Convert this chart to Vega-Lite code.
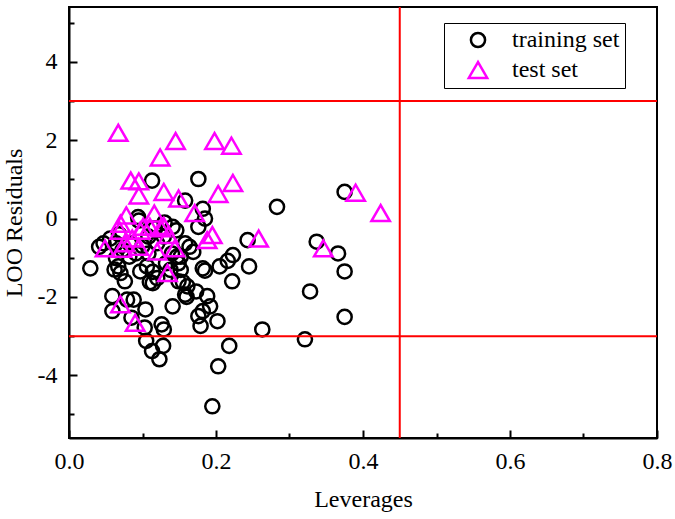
{
  "$schema": "https://vega.github.io/schema/vega-lite/v6.json",
  "width": 588,
  "height": 431,
  "autosize": {"type": "none"},
  "padding": {"left": 69, "top": 7, "right": 18, "bottom": 81},
  "background": "white",
  "config": {
    "font": "Liberation Serif",
    "view": {"stroke": "black", "strokeWidth": 2},
    "axis": {
      "grid": false,
      "domainColor": "black",
      "domainWidth": 2,
      "tickColor": "black",
      "tickWidth": 2,
      "labelColor": "black",
      "labelFont": "Liberation Serif",
      "labelFontSize": 24,
      "titleFont": "Liberation Serif",
      "titleFontSize": 24,
      "titleFontWeight": "normal",
      "titleColor": "black"
    }
  },
  "resolve": {"axis": {"x": "independent", "y": "independent"}},
  "datasets": {
    "points": [
      {"lev": 0.113, "res": 0.97, "set": "training set"},
      {"lev": 0.176, "res": 1.01, "set": "training set"},
      {"lev": 0.375, "res": 0.68, "set": "training set"},
      {"lev": 0.283, "res": 0.30, "set": "training set"},
      {"lev": 0.182, "res": 0.25, "set": "training set"},
      {"lev": 0.158, "res": 0.46, "set": "training set"},
      {"lev": 0.185, "res": 0.00, "set": "training set"},
      {"lev": 0.176, "res": -0.21, "set": "training set"},
      {"lev": 0.094, "res": 0.04, "set": "training set"},
      {"lev": 0.243, "res": -0.55, "set": "training set"},
      {"lev": 0.337, "res": -0.59, "set": "training set"},
      {"lev": 0.366, "res": -0.89, "set": "training set"},
      {"lev": 0.375, "res": -1.35, "set": "training set"},
      {"lev": 0.223, "res": -0.93, "set": "training set"},
      {"lev": 0.205, "res": -1.22, "set": "training set"},
      {"lev": 0.245, "res": -1.22, "set": "training set"},
      {"lev": 0.222, "res": -1.60, "set": "training set"},
      {"lev": 0.328, "res": -1.86, "set": "training set"},
      {"lev": 0.375, "res": -2.51, "set": "training set"},
      {"lev": 0.263, "res": -2.83, "set": "training set"},
      {"lev": 0.321, "res": -3.08, "set": "training set"},
      {"lev": 0.218, "res": -3.25, "set": "training set"},
      {"lev": 0.203, "res": -3.77, "set": "training set"},
      {"lev": 0.195, "res": -4.79, "set": "training set"},
      {"lev": 0.202, "res": -2.62, "set": "training set"},
      {"lev": 0.179, "res": -2.74, "set": "training set"},
      {"lev": 0.182, "res": -2.36, "set": "training set"},
      {"lev": 0.192, "res": -2.24, "set": "training set"},
      {"lev": 0.188, "res": -1.98, "set": "training set"},
      {"lev": 0.173, "res": -1.86, "set": "training set"},
      {"lev": 0.158, "res": -1.94, "set": "training set"},
      {"lev": 0.161, "res": -1.73, "set": "training set"},
      {"lev": 0.149, "res": -1.60, "set": "training set"},
      {"lev": 0.141, "res": -2.24, "set": "training set"},
      {"lev": 0.182, "res": -1.27, "set": "training set"},
      {"lev": 0.164, "res": -0.72, "set": "training set"},
      {"lev": 0.158, "res": -0.63, "set": "training set"},
      {"lev": 0.149, "res": -1.14, "set": "training set"},
      {"lev": 0.152, "res": -0.97, "set": "training set"},
      {"lev": 0.146, "res": -0.30, "set": "training set"},
      {"lev": 0.141, "res": -0.21, "set": "training set"},
      {"lev": 0.114, "res": -1.65, "set": "training set"},
      {"lev": 0.120, "res": -1.52, "set": "training set"},
      {"lev": 0.097, "res": -1.35, "set": "training set"},
      {"lev": 0.106, "res": -1.22, "set": "training set"},
      {"lev": 0.076, "res": -1.60, "set": "training set"},
      {"lev": 0.029, "res": -1.27, "set": "training set"},
      {"lev": 0.041, "res": -0.72, "set": "training set"},
      {"lev": 0.056, "res": -0.51, "set": "training set"},
      {"lev": 0.064, "res": -1.01, "set": "training set"},
      {"lev": 0.067, "res": -1.22, "set": "training set"},
      {"lev": 0.070, "res": -1.39, "set": "training set"},
      {"lev": 0.062, "res": -1.30, "set": "training set"},
      {"lev": 0.059, "res": -1.98, "set": "training set"},
      {"lev": 0.059, "res": -2.36, "set": "training set"},
      {"lev": 0.079, "res": -2.07, "set": "training set"},
      {"lev": 0.088, "res": -2.07, "set": "training set"},
      {"lev": 0.085, "res": -2.53, "set": "training set"},
      {"lev": 0.104, "res": -2.32, "set": "training set"},
      {"lev": 0.103, "res": -2.78, "set": "training set"},
      {"lev": 0.105, "res": -3.12, "set": "training set"},
      {"lev": 0.113, "res": -3.38, "set": "training set"},
      {"lev": 0.123, "res": -3.59, "set": "training set"},
      {"lev": 0.128, "res": -3.25, "set": "training set"},
      {"lev": 0.129, "res": -2.83, "set": "training set"},
      {"lev": 0.126, "res": -2.70, "set": "training set"},
      {"lev": 0.082, "res": -0.97, "set": "training set"},
      {"lev": 0.091, "res": -0.89, "set": "training set"},
      {"lev": 0.108, "res": -0.89, "set": "training set"},
      {"lev": 0.108, "res": -0.46, "set": "training set"},
      {"lev": 0.117, "res": -0.25, "set": "training set"},
      {"lev": 0.120, "res": -0.63, "set": "training set"},
      {"lev": 0.129, "res": -0.46, "set": "training set"},
      {"lev": 0.140, "res": -0.89, "set": "training set"},
      {"lev": 0.147, "res": -0.97, "set": "training set"},
      {"lev": 0.132, "res": -1.14, "set": "training set"},
      {"lev": 0.138, "res": -1.31, "set": "training set"},
      {"lev": 0.152, "res": -1.31, "set": "training set"},
      {"lev": 0.082, "res": -0.63, "set": "training set"},
      {"lev": 0.073, "res": -0.80, "set": "training set"},
      {"lev": 0.064, "res": -0.63, "set": "training set"},
      {"lev": 0.047, "res": -0.63, "set": "training set"},
      {"lev": 0.169, "res": -0.85, "set": "training set"},
      {"lev": 0.185, "res": -1.33, "set": "training set"},
      {"lev": 0.216, "res": -1.08, "set": "training set"},
      {"lev": 0.155, "res": -1.62, "set": "training set"},
      {"lev": 0.160, "res": -2.00, "set": "training set"},
      {"lev": 0.176, "res": -2.49, "set": "training set"},
      {"lev": 0.110, "res": -1.62, "set": "training set"},
      {"lev": 0.114, "res": -1.36, "set": "training set"},
      {"lev": 0.095, "res": -0.05, "set": "training set"},
      {"lev": 0.130, "res": -0.10, "set": "training set"},
      {"lev": 0.100, "res": -0.70, "set": "training set"},
      {"lev": 0.068, "res": -0.40, "set": "training set"},
      {"lev": 0.067, "res": 2.19, "set": "test set"},
      {"lev": 0.145, "res": 1.98, "set": "test set"},
      {"lev": 0.198, "res": 1.98, "set": "test set"},
      {"lev": 0.221, "res": 1.86, "set": "test set"},
      {"lev": 0.124, "res": 1.56, "set": "test set"},
      {"lev": 0.084, "res": 0.97, "set": "test set"},
      {"lev": 0.095, "res": 0.95, "set": "test set"},
      {"lev": 0.223, "res": 0.91, "set": "test set"},
      {"lev": 0.129, "res": 0.68, "set": "test set"},
      {"lev": 0.095, "res": 0.59, "set": "test set"},
      {"lev": 0.149, "res": 0.51, "set": "test set"},
      {"lev": 0.203, "res": 0.63, "set": "test set"},
      {"lev": 0.390, "res": 0.66, "set": "test set"},
      {"lev": 0.424, "res": 0.14, "set": "test set"},
      {"lev": 0.171, "res": 0.14, "set": "test set"},
      {"lev": 0.116, "res": 0.13, "set": "test set"},
      {"lev": 0.078, "res": 0.08, "set": "test set"},
      {"lev": 0.070, "res": -0.13, "set": "test set"},
      {"lev": 0.101, "res": -0.21, "set": "test set"},
      {"lev": 0.129, "res": -0.19, "set": "test set"},
      {"lev": 0.195, "res": -0.42, "set": "test set"},
      {"lev": 0.188, "res": -0.55, "set": "test set"},
      {"lev": 0.135, "res": -0.42, "set": "test set"},
      {"lev": 0.258, "res": -0.51, "set": "test set"},
      {"lev": 0.049, "res": -0.76, "set": "test set"},
      {"lev": 0.076, "res": -0.63, "set": "test set"},
      {"lev": 0.095, "res": -0.72, "set": "test set"},
      {"lev": 0.144, "res": -0.76, "set": "test set"},
      {"lev": 0.120, "res": -0.84, "set": "test set"},
      {"lev": 0.346, "res": -0.76, "set": "test set"},
      {"lev": 0.134, "res": -1.39, "set": "test set"},
      {"lev": 0.070, "res": -2.19, "set": "test set"},
      {"lev": 0.090, "res": -2.66, "set": "test set"},
      {"lev": 0.069, "res": -0.31, "set": "test set"},
      {"lev": 0.097, "res": -0.31, "set": "test set"},
      {"lev": 0.110, "res": -0.21, "set": "test set"},
      {"lev": 0.086, "res": -0.51, "set": "test set"},
      {"lev": 0.072, "res": -0.77, "set": "test set"},
      {"lev": 0.125, "res": -0.25, "set": "test set"}
    ],
    "limits": [
      {"kind": "h", "value": 3},
      {"kind": "h", "value": -3},
      {"kind": "v", "value": 0.45}
    ]
  },
  "layer": [
    {
      "data": {"name": "points"},
      "mark": {"type": "point", "filled": false, "strokeWidth": 2.5, "opacity": 1},
      "encoding": {
        "x": {
          "field": "lev",
          "type": "quantitative",
          "scale": {"domain": [0, 0.8], "nice": false, "zero": false},
          "axis": {
            "orient": "bottom",
            "title": "Leverages",
            "values": [0, 0.2, 0.4, 0.6, 0.8],
            "format": ".1f",
            "tickSize": -8,
            "labelPadding": 19,
            "labelFlush": false,
            "titlePadding": 14
          }
        },
        "y": {
          "field": "res",
          "type": "quantitative",
          "scale": {"domain": [-5.6, 5.4], "nice": false, "zero": false},
          "axis": {
            "orient": "left",
            "title": "LOO Residuals",
            "values": [-4, -2, 0, 2, 4],
            "labelExpr": "'' + datum.value",
            "tickSize": -8,
            "labelPadding": 20,
            "labelFlush": false,
            "titlePadding": 11
          }
        },
        "shape": {
          "field": "set",
          "type": "nominal",
          "scale": {"domain": ["training set", "test set"], "range": ["circle", "triangle-up"]},
          "legend": {
            "orient": "none",
            "legendX": 375,
            "legendY": 16,
            "title": null,
            "strokeColor": "black",
            "fillColor": "white",
            "padding": 5,
            "labelFontSize": 24,
            "labelFont": "Liberation Serif",
            "labelColor": "black",
            "symbolStrokeWidth": 2.5,
            "rowPadding": 4,
            "symbolOffset": 17,
            "labelOffset": 22
          }
        },
        "color": {
          "field": "set",
          "type": "nominal",
          "scale": {"domain": ["training set", "test set"], "range": ["black", "#FF00FF"]}
        },
        "size": {
          "field": "set",
          "type": "nominal",
          "scale": {"domain": ["training set", "test set"], "range": [200, 340]}
        }
      }
    },
    {
      "data": {"name": "points"},
      "mark": {"type": "point", "opacity": 0},
      "encoding": {
        "x": {
          "field": "lev",
          "type": "quantitative",
          "axis": {
            "orient": "bottom",
            "title": null,
            "values": [0.1, 0.3, 0.5, 0.7],
            "labels": false,
            "domain": false,
            "tickSize": -5
          }
        },
        "y": {
          "field": "res",
          "type": "quantitative",
          "axis": {
            "orient": "left",
            "title": null,
            "values": [-5, -3, -1, 1, 3, 5],
            "labels": false,
            "domain": false,
            "tickSize": -5
          }
        }
      }
    },
    {
      "data": {"name": "limits"},
      "transform": [{"filter": "datum.kind == 'h'"}],
      "mark": {"type": "rule", "color": "#FF0000", "strokeWidth": 2},
      "encoding": {"y": {"field": "value", "type": "quantitative", "axis": null}}
    },
    {
      "data": {"name": "limits"},
      "transform": [{"filter": "datum.kind == 'v'"}],
      "mark": {"type": "rule", "color": "#FF0000", "strokeWidth": 2},
      "encoding": {"x": {"field": "value", "type": "quantitative", "axis": null}}
    }
  ]
}
